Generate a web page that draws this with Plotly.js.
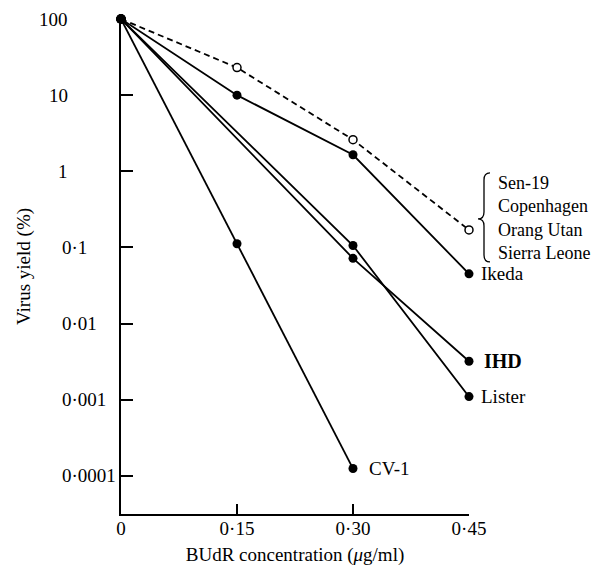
<!DOCTYPE html>
<html>
<head>
<meta charset="utf-8">
<script src="https://cdn.plot.ly/plotly-3.0.1.min.js"></script>
<style>html,body{margin:0;padding:0;background:#fff;}#chart{width:610px;height:568px;}</style>
</head>
<body>
<div id="chart"></div>
<script>
// ---- data ----
const xTickVals = [0, 0.15, 0.30, 0.45];
const xTickText = ['0', '0·15', '0·30', '0·45'];
const yTickVals = [0.0001, 0.001, 0.01, 0.1, 1, 10, 100];
const yTickText = ['0·0001', '0·001', '0·01', '0·1', '1', '10', '100'];

const groupX = [0, 0.15, 0.30, 0.45];
const groupY = [100, 23, 2.6, 0.17];          // Sen-19 / Copenhagen / Orang Utan / Sierra Leone
const groupNames = ['Sen-19', 'Copenhagen', 'Orang Utan', 'Sierra Leone'];

const ikedaX = [0, 0.15, 0.30, 0.45];
const ikedaY = [100, 10, 1.65, 0.045];

const ihdX = [0, 0.30, 0.45];
const ihdY = [100, 0.072, 0.0032];

const listerX = [0, 0.30, 0.45];
const listerY = [100, 0.106, 0.0011];

const cv1X = [0, 0.15, 0.30];
const cv1Y = [100, 0.112, 0.000125];

const FONT = '"Liberation Serif", "Times New Roman", serif';

function solid(x, y, name) {
  return {
    x: x, y: y, name: name, type: 'scatter', mode: 'lines+markers',
    line: {color: '#000', width: 1.8},
    marker: {color: '#000', size: 9, line: {width: 0}},
    cliponaxis: false, showlegend: false, hoverinfo: 'x+y+name'
  };
}

const traces = [
  {
    x: groupX, y: groupY, name: groupNames.join(', '), type: 'scatter', mode: 'lines+markers',
    line: {color: '#000', width: 1.8, dash: '6px,4px'},
    marker: {color: '#fff', size: 8, line: {color: '#000', width: 1.5}},
    cliponaxis: false, showlegend: false
  },
  solid(ikedaX, ikedaY, 'Ikeda'),
  solid(ihdX, ihdY, 'IHD'),
  solid(listerX, listerY, 'Lister'),
  solid(cv1X, cv1Y, 'CV-1'),
  // origin point drawn on top (common to all series)
  {x: [cv1X[0]], y: [cv1Y[0]], type: 'scatter', mode: 'markers',
   marker: {color: '#000', size: 10}, cliponaxis: false, showlegend: false, hoverinfo: 'skip'}
];

function last(a) { return a[a.length - 1]; }

const annotations = [];
// y tick labels: larger values right-aligned, smaller ones left-aligned as in the original print
yTickVals.forEach(function (v, i) {
  const big = v >= 1;
  annotations.push({
    xref: 'paper', yref: 'y', x: 0, y: Math.log10(v),
    text: yTickText[i], showarrow: false,
    xanchor: big ? 'right' : 'left', yanchor: 'middle',
    xshift: big ? -51 : -61,
    font: {family: FONT, size: 19, color: '#000'}
  });
});

function label(x, y, text, dx, size) {
  annotations.push({
    xref: 'x', yref: 'y', x: x, y: Math.log10(y), text: text, showarrow: false,
    xanchor: 'left', yanchor: 'middle', xshift: dx,
    font: {family: FONT, size: size || 19, color: '#000'}
  });
}
label(last(ikedaX), last(ikedaY), 'Ikeda', 10);
label(last(ihdX), last(ihdY), '<b>IHD</b>', 13, 20);
label(last(listerX), last(listerY), 'Lister', 10);
label(last(cv1X), last(cv1Y), 'CV-1', 14);

annotations.push({
  xref: 'x', yref: 'y', x: last(groupX), y: Math.log10(last(groupY)),
  text: groupNames.join('<br>'), showarrow: false, align: 'left',
  xanchor: 'left', yanchor: 'middle', xshift: 27, yshift: 12,
  font: {family: FONT, size: 18, color: '#000'}
});

// curly brace grouping the four strains (pixel-sized, anchored at the last open-circle point;
// x anchored to the right edge of the plot area = last x value)
const shapes = [{
  type: 'path', xref: 'paper', yref: 'y',
  xsizemode: 'pixel', ysizemode: 'pixel',
  xanchor: 1, yanchor: last(groupY),
  path: 'M 21 57 Q 15 57 15 50 L 15 18 Q 15 11 9 11 Q 15 11 15 4 L 15 -25 Q 15 -32 21 -32',
  line: {color: '#000', width: 1.3}
}];

const layout = {
  width: 610, height: 568,
  margin: {l: 121, r: 141, t: 19, b: 54, pad: 0},
  paper_bgcolor: '#fff', plot_bgcolor: '#fff',
  font: {family: FONT, size: 19, color: '#000'},
  xaxis: {
    range: [0, 0.45], tickvals: xTickVals, ticktext: xTickText,
    ticks: 'inside', ticklen: 10, tickwidth: 2, tickcolor: '#000',
    ticklabelstandoff: -4,
    showline: true, linewidth: 2, linecolor: '#000',
    showgrid: false, zeroline: false,
    tickfont: {family: FONT, size: 19, color: '#000'},
    title: {text: 'BUdR concentration (<i>μ</i>g/ml)', font: {family: FONT, size: 19, color: '#000'}, standoff: 10}
  },
  yaxis: {
    type: 'log', range: [-4.5, 2], tickvals: yTickVals, showticklabels: false,
    ticks: 'inside', ticklen: 12, tickwidth: 2, tickcolor: '#000',
    showline: true, linewidth: 2, linecolor: '#000',
    showgrid: false, zeroline: false,
    title: {text: 'Virus yield (%)', font: {family: FONT, size: 19, color: '#000'}, standoff: 83}
  },
  annotations: annotations,
  shapes: shapes,
  showlegend: false
};

Plotly.newPlot('chart', traces, layout, {staticPlot: true, displayModeBar: false});
</script>
</body>
</html>
